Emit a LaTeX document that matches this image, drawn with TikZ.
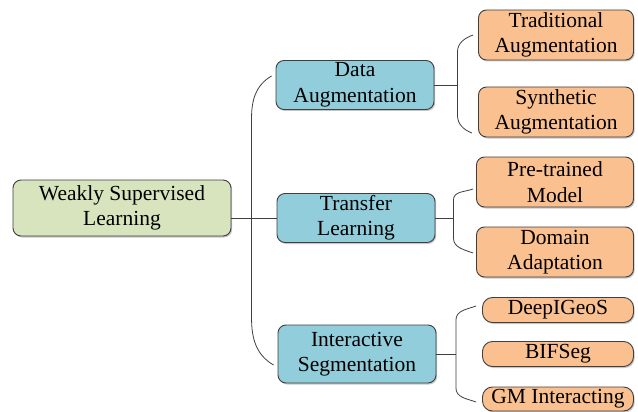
\documentclass[tikz,border=0pt]{standalone}
\usepackage{fontspec}
\setmainfont{Liberation Serif}
\usetikzlibrary{positioning,calc,shadows}

\definecolor{rootgreen}{HTML}{D7E4BD}
\definecolor{catblue}{HTML}{92CDDC}
\definecolor{leaforange}{HTML}{FAC090}
\definecolor{edgegray}{HTML}{3F3F3F}

\tikzset{
  mapbox/.style={draw=edgegray,line width=0.9pt,rounded corners=8pt,align=center,inner sep=0pt,
    font=\fontsize{21.5}{25.5}\selectfont,
    drop shadow={shadow xshift=1.2pt,shadow yshift=-1.5pt,opacity=0.45}},
  rootbox/.style={mapbox,fill=rootgreen,minimum width=218pt,minimum height=56pt},
  catbox/.style={mapbox,fill=catblue,minimum width=158pt,minimum height=49pt},
  leafbox/.style={mapbox,fill=leaforange,minimum width=155pt,minimum height=50pt},
  pillbox/.style={mapbox,fill=leaforange,minimum width=151pt,minimum height=25pt,rounded corners=10pt},
  link/.style={draw=edgegray,line width=0.8pt}
}

\begin{document}
\begin{tikzpicture}[x=1pt,y=-1pt]
\useasboundingbox (0,0) rectangle (638,412);
% root
\node[rootbox] (wsl) at (122,208) {Weakly Supervised\\Learning};
% categories
\node[catbox] (da) at (355,85) {Data\\Augmentation};
\node[catbox] (tl) at (356,218) {Transfer\\Learning};
\node[catbox,minimum height=58pt] (is) at (357,354) {Interactive\\Segmentation};
% leaves
\node[leafbox] (ta) at (556,35) {Traditional\\Augmentation};
\node[leafbox] (sa) at (556,112) {Synthetic\\Augmentation};
\node[leafbox,minimum width=157pt] (pm) at (555,182) {Pre-trained\\Model};
\node[leafbox,minimum width=157pt] (dad) at (555,252) {Domain\\Adaptation};
\node[pillbox] (dig) at (558,310) {DeepIGeoS};
\node[pillbox] (bif) at (558,354) {BIFSeg};
\node[pillbox,minimum height=24pt] (gmi) at (558,399) {GM Interacting};

% root to categories
\coordinate (jl) at ($(tl.west)+(-25,0)$);
\draw[link] (wsl.east |- tl.west) -- (tl.west);
\draw[link] ([shift={(-4,-9)}]da.west) to[out=210,in=90] ($(jl)+(0,-100)$)
  -- ($(jl)+(0,100)$) to[out=-90,in=150] ([shift={(-4,11)}]is.west);

% data augmentation
\coordinate (jd) at ($(da.east)+(23,0)$);
\draw[link] (da.east) -- (jd);
\draw[link] ([shift={(-5,0)}]ta.west) to[out=200,in=90] ($(jd)+(0,-33)$)
  -- ($(jd)+(0,30)$) to[out=-90,in=160] ([shift={(-6,21)}]sa.west);

% transfer learning
\coordinate (jt) at ($(tl.east)+(18,0)$);
\draw[link] (tl.east) -- (jt);
\draw[link] ([shift={(-3,7)}]pm.west) to[out=200,in=90] ($(jt)+(0,-18)$)
  -- ($(jt)+(0,20)$) to[out=-90,in=160] ([shift={(-3,1)}]dad.west);

% interactive segmentation
\coordinate (ji) at ($(is.east)+(19.5,0)$);
\draw[link] (is.east) -- (ji);
\draw[link] ([shift={(-6,-4)}]dig.west) to[out=200,in=90] ($(ji)+(0,-34)$)
  -- ($(ji)+(0,34)$) to[out=-90,in=160] ([shift={(-6,3)}]gmi.west);
\end{tikzpicture}
\end{document}
